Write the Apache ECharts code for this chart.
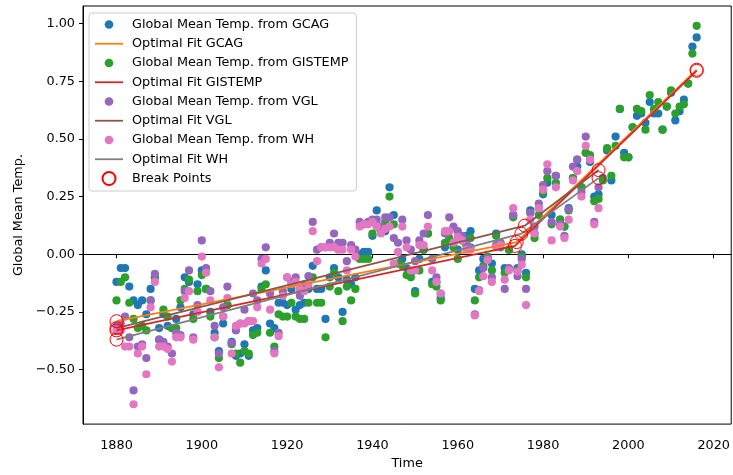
<!DOCTYPE html>
<html>
<head>
<meta charset="utf-8">
<script src="https://cdn.jsdelivr.net/npm/echarts@6/dist/echarts.min.js"></script>
<style>
  html, body { margin: 0; padding: 0; background: #ffffff; }
  #chart { width: 733px; height: 475px; }
</style>
</head>
<body>
<div id="chart"></div>
<script>
// Annual global mean temperature anomalies, one value per year starting at firstYear
const firstYear = 1880;

const gcagTemp = [
  -0.12, -0.06, -0.06, -0.14, -0.20, -0.22, -0.20, -0.26, -0.15, -0.10,
  -0.32, -0.26, -0.31, -0.32, -0.28, -0.23, -0.10, -0.12, -0.26, -0.13,
  -0.07, -0.15, -0.25, -0.34, -0.42, -0.30, -0.22, -0.38, -0.44, -0.43,
  -0.39, -0.44, -0.33, -0.32, -0.14, -0.07, -0.30, -0.32, -0.21, -0.21,
  -0.22, -0.15, -0.24, -0.22, -0.21, -0.15, -0.05, -0.15, -0.15, -0.28,
  -0.10, -0.06, -0.10, -0.25, -0.11, -0.13, -0.10, 0.00, 0.01, 0.01,
  0.08, 0.19, 0.10, 0.10, 0.29, 0.17, -0.04, -0.02, -0.06, -0.08,
  -0.16, -0.02, 0.02, 0.09, -0.12, -0.12, -0.19, 0.03, 0.10, 0.05,
  0.02, 0.07, 0.08, 0.10, -0.15, -0.07, -0.02, -0.02, -0.04, 0.09,
  0.05, -0.06, 0.02, 0.17, -0.06, 0.00, -0.08, 0.19, 0.09, 0.20,
  0.26, 0.31, 0.17, 0.34, 0.15, 0.12, 0.20, 0.33, 0.38, 0.29,
  0.44, 0.40, 0.25, 0.26, 0.33, 0.45, 0.32, 0.51, 0.63, 0.44,
  0.42, 0.55, 0.60, 0.61, 0.57, 0.66, 0.61, 0.61, 0.54, 0.64,
  0.70, 0.58, 0.62, 0.67, 0.74, 0.90, 0.94
];

const gistempTemp = [
  -0.20, -0.12, -0.10, -0.21, -0.28, -0.32, -0.31, -0.33, -0.20, -0.10,
  -0.37, -0.24, -0.27, -0.32, -0.32, -0.20, -0.15, -0.11, -0.28, -0.16,
  -0.09, -0.15, -0.27, -0.36, -0.45, -0.27, -0.22, -0.39, -0.43, -0.47,
  -0.42, -0.43, -0.35, -0.34, -0.15, -0.13, -0.34, -0.40, -0.26, -0.27,
  -0.27, -0.21, -0.27, -0.28, -0.28, -0.21, -0.10, -0.21, -0.21, -0.36,
  -0.14, -0.08, -0.16, -0.29, -0.14, -0.20, -0.15, -0.02, -0.02, -0.02,
  0.09, 0.12, 0.10, 0.14, 0.25, 0.13, -0.04, -0.05, -0.09, -0.10,
  -0.17, -0.07, 0.02, 0.09, -0.13, -0.14, -0.20, 0.05, 0.07, 0.03,
  -0.02, 0.06, 0.04, 0.07, -0.20, -0.10, -0.05, -0.01, -0.07, 0.08,
  0.03, -0.08, 0.02, 0.16, -0.07, -0.01, -0.10, 0.18, 0.07, 0.17,
  0.27, 0.33, 0.13, 0.31, 0.15, 0.12, 0.19, 0.33, 0.41, 0.29,
  0.44, 0.43, 0.23, 0.24, 0.32, 0.46, 0.34, 0.47, 0.63, 0.42,
  0.42, 0.55, 0.63, 0.62, 0.54, 0.69, 0.63, 0.66, 0.54, 0.64,
  0.71, 0.61, 0.64, 0.65, 0.74, 0.87, 0.99
];

const vglTemp = [
  -0.31, -0.30, -0.27, -0.36, -0.59, -0.40, -0.39, -0.45, -0.20, -0.085,
  -0.37, -0.38, -0.40, -0.43, -0.34, -0.35, -0.16, -0.07, -0.36, -0.22,
  0.06, -0.06, -0.16, -0.31, -0.43, -0.23, -0.14, -0.385, -0.33, -0.30,
  -0.24, -0.29, -0.17, -0.20, -0.02, 0.03, -0.17, -0.42, -0.34, -0.16,
  -0.10, -0.12, -0.10, -0.18, -0.13, -0.095, 0.14, 0.02, 0.03, 0.03,
  0.05, 0.09, 0.05, 0.05, -0.03, 0.04, 0.02, 0.14, 0.13, 0.14,
  0.15, 0.15, 0.12, 0.16, 0.16, 0.07, 0.05, 0.15, 0.06, 0.02,
  -0.03, 0.06, 0.09, 0.17, -0.02, -0.10, -0.17, 0.09, 0.16, 0.12,
  0.10, 0.08, 0.05, 0.03, -0.26, -0.155, -0.06, -0.02, -0.10, 0.04,
  0.05, -0.15, -0.06, 0.17, -0.095, -0.02, -0.15, 0.18, 0.12, 0.22,
  0.30, 0.36, 0.14, 0.34, 0.13, 0.08, 0.195, 0.38, 0.41, 0.27,
  0.51, 0.41, 0.14, 0.29
];

const whTemp = [
  -0.33, -0.33, -0.40, -0.40, -0.65, -0.43, -0.40, -0.52, -0.23, -0.12,
  -0.40, -0.40, -0.41, -0.465, -0.36, -0.36, -0.19, -0.16, -0.37, -0.25,
  -0.01, -0.08, -0.20, -0.36, -0.49, -0.27, -0.19, -0.43, -0.31, -0.30,
  -0.30, -0.29, -0.29, -0.23, -0.04, -0.02, -0.24, -0.43, -0.355, -0.18,
  -0.10, -0.13, -0.12, -0.15, -0.16, -0.13, 0.10, -0.03, 0.03, 0.03,
  0.03, 0.03, 0.02, 0.02, -0.07, 0.02, -0.01, 0.12, 0.13, 0.13,
  0.14, 0.12, 0.09, 0.11, 0.12, -0.04, 0.01, 0.12, 0.03, -0.07,
  -0.07, 0.04, 0.04, 0.12, -0.07, -0.12, -0.17, 0.10, 0.10, 0.05,
  0.075, 0.06, 0.02, 0.02, -0.265, -0.16, -0.095, -0.025, -0.12, 0.03,
  0.04, -0.11, -0.07, 0.20, -0.075, -0.045, -0.22, 0.15, 0.09, 0.20,
  0.28, 0.39, 0.06, 0.29, 0.12, 0.07, 0.15, 0.32, 0.36, 0.25,
  0.47, 0.41, 0.13, 0.20
];

// Piecewise-linear optimal fits: knot years and fitted values at the knots
const gcagFitYears = [1880, 1973.8, 2016];
const gcagFitTemp = [-0.29, 0.053, 0.80];
const gistempFitYears = [1880, 1973.4, 2016];
const gistempFitTemp = [-0.33, 0.036, 0.795];
const vglFitYears = [1880, 1975.7, 1993];
const vglFitTemp = [-0.32, 0.124, 0.365];
const whFitYears = [1880, 1974.9, 1993];
const whFitTemp = [-0.37, 0.089, 0.33];

const xTicks = [1880, 1900, 1920, 1940, 1960, 1980, 2000, 2020];
const yTicks = [-0.5, -0.25, 0, 0.25, 0.5, 0.75, 1.0];

const seriesNames = {
  gcag: 'Global Mean Temp. from GCAG',
  gcagFit: 'Optimal Fit GCAG',
  gis: 'Global Mean Temp. from GISTEMP',
  gisFit: 'Optimal Fit GISTEMP',
  vgl: 'Global Mean Temp. from VGL',
  vglFit: 'Optimal Fit VGL',
  wh: 'Global Mean Temp. from WH',
  whFit: 'Optimal Fit WH',
  breaks: 'Break Points'
};

function yearPairs(values) {
  return values.map((v, i) => [firstYear + i, v]);
}
function knotPairs(years, values) {
  return years.map((y, i) => [y, values[i]]);
}

const fits = [
  knotPairs(gcagFitYears, gcagFitTemp),
  knotPairs(gistempFitYears, gistempFitTemp),
  knotPairs(vglFitYears, vglFitTemp),
  knotPairs(whFitYears, whFitTemp)
];
const breakPoints = [].concat(...fits);

const font = 'DejaVu Sans, Verdana, sans-serif';
const fs = 12.8;

// Legend glyphs: a small dot padded inside a 13x13 box, and a thin stroke for fit lines
const dotIcon = 'path://M0,0M13,13M2.15,6.5A4.35,4.35,0,1,1,10.85,6.5A4.35,4.35,0,1,1,2.15,6.5Z';
const lineIcon = 'path://M0,0L28,0L28,1.8L0,1.8Z';

function scatter(name, values, color) {
  return {
    name, type: 'scatter', data: yearPairs(values), symbol: 'circle', symbolSize: 8.2,
    itemStyle: { color, opacity: 1 }, emphasis: { disabled: true }, z: 2
  };
}
function fitLine(name, data, color) {
  return {
    name, type: 'line', data, symbol: 'none', showSymbol: false,
    lineStyle: { color, width: 1.8 }, itemStyle: { color },
    emphasis: { disabled: true }, z: 3
  };
}
function fmtMinus(s) { return s.replace('-', '\u2212'); }

const chart = echarts.init(document.getElementById('chart'), null, { renderer: 'canvas' });
chart.setOption({
  animation: false,
  backgroundColor: '#ffffff',
  grid: { left: 83, top: 6, right: -2, bottom: 41.7, show: true, borderColor: '#000', borderWidth: 1, backgroundColor: 'transparent' },
  xAxis: {
    type: 'value', min: 1872.15, max: 2024.1,
    name: 'Time', nameLocation: 'middle', nameGap: 30,
    nameTextStyle: { fontFamily: font, fontSize: fs, color: '#000' },
    axisLine: { show: true, lineStyle: { color: '#000', width: 1 } },
    axisTick: { show: true, inside: false, length: 4, customValues: xTicks, lineStyle: { color: '#000' } },
    axisLabel: {
      customValues: xTicks, margin: 15, fontFamily: font, fontSize: fs, color: '#000',
      formatter: v => String(Math.round(v))
    },
    splitLine: { show: false }
  },
  yAxis: {
    type: 'value', min: -0.736, max: 1.076,
    name: 'Global Mean Temp.', nameLocation: 'middle', nameGap: 55, nameRotate: 90,
    nameTextStyle: { fontFamily: font, fontSize: fs, color: '#000' },
    axisLine: { show: true, lineStyle: { color: '#000', width: 1 } },
    axisTick: { show: true, inside: false, length: 4, customValues: yTicks, lineStyle: { color: '#000' } },
    axisLabel: {
      customValues: yTicks, margin: 8, fontFamily: font, fontSize: fs, color: '#000',
      formatter: v => fmtMinus(Number(v).toFixed(2))
    },
    splitLine: { show: false }
  },
  legend: {
    orient: 'vertical', left: 89, top: 13,
    padding: [4, 8, 5, 6], itemGap: 4.25, itemWidth: 28, itemHeight: 13,
    symbolKeepAspect: true,
    backgroundColor: 'rgba(255,255,255,0.8)', borderColor: '#cccccc', borderWidth: 1, borderRadius: 3,
    textStyle: { fontFamily: font, fontSize: fs, color: '#000', lineHeight: 15, padding: [0, 0, 0, 4] },
    selectedMode: false,
    data: [
      { name: seriesNames.gcag, icon: dotIcon },
      { name: seriesNames.gcagFit, icon: lineIcon },
      { name: seriesNames.gis, icon: dotIcon },
      { name: seriesNames.gisFit, icon: lineIcon },
      { name: seriesNames.vgl, icon: dotIcon },
      { name: seriesNames.vglFit, icon: lineIcon },
      { name: seriesNames.wh, icon: dotIcon },
      { name: seriesNames.whFit, icon: lineIcon },
      { name: seriesNames.breaks, icon: 'circle' }
    ]
  },
  series: [
    scatter(seriesNames.gcag, gcagTemp, '#1f77b4'),
    scatter(seriesNames.gis, gistempTemp, '#2ca02c'),
    scatter(seriesNames.vgl, vglTemp, '#9467bd'),
    scatter(seriesNames.wh, whTemp, '#e377c2'),
    fitLine(seriesNames.gcagFit, fits[0], '#ff7f0e'),
    fitLine(seriesNames.gisFit, fits[1], '#d62728'),
    fitLine(seriesNames.vglFit, fits[2], '#8c564b'),
    fitLine(seriesNames.whFit, fits[3], '#7f7f7f'),
    {
      name: seriesNames.breaks, type: 'scatter', data: breakPoints, symbol: 'circle', symbolSize: 13,
      itemStyle: { color: 'rgba(0,0,0,0)', borderColor: '#ff0000', borderWidth: 1, opacity: 1 },
      emphasis: { disabled: true }, z: 4
    }
  ]
});
</script>
</body>
</html>
